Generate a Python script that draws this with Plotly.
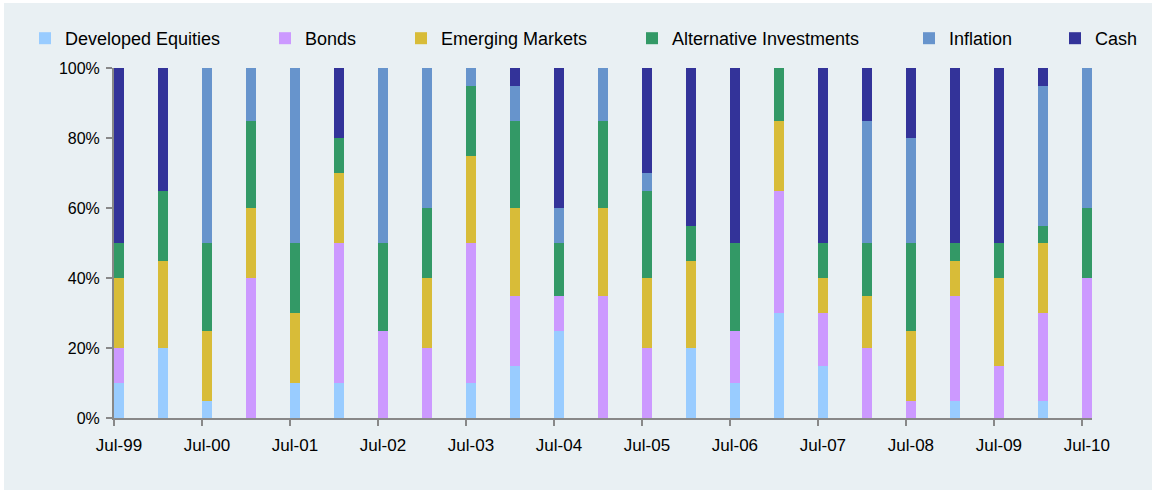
import plotly.graph_objects as go

periods = ["Jul-99", "Jan-00", "Jul-00", "Jan-01", "Jul-01", "Jan-02", "Jul-02", "Jan-03",
           "Jul-03", "Jan-04", "Jul-04", "Jan-05", "Jul-05", "Jan-06", "Jul-06", "Jan-07",
           "Jul-07", "Jan-08", "Jul-08", "Jan-09", "Jul-09", "Jan-10", "Jul-10"]

developed_equities = [10, 20, 5, 0, 10, 10, 0, 0, 10, 15, 25, 0, 0, 20, 10, 30, 15, 0, 0, 5, 0, 5, 0]
bonds = [10, 0, 0, 40, 0, 40, 25, 20, 40, 20, 10, 35, 20, 0, 15, 35, 15, 20, 5, 30, 15, 25, 40]
emerging_markets = [20, 25, 20, 20, 20, 20, 0, 20, 25, 25, 0, 25, 20, 25, 0, 20, 10, 15, 20, 10, 25, 20, 0]
alternative_investments = [10, 20, 25, 25, 20, 10, 25, 20, 20, 25, 15, 25, 25, 10, 25, 15, 10, 15, 25, 5, 10, 5, 20]
inflation = [0, 0, 50, 15, 50, 0, 50, 40, 5, 10, 10, 15, 5, 0, 0, 0, 0, 35, 30, 0, 0, 40, 40]
cash = [50, 35, 0, 0, 0, 20, 0, 0, 0, 5, 40, 0, 30, 45, 50, 0, 50, 15, 20, 50, 50, 5, 0]

y_ticks = [0, 20, 40, 60, 80, 100]
y_tick_labels = ["0%", "20%", "40%", "60%", "80%", "100%"]

series = [
    ("Developed Equities", developed_equities, "#99CCFF"),
    ("Bonds", bonds, "#CC99FF"),
    ("Emerging Markets", emerging_markets, "#D8BC38"),
    ("Alternative Investments", alternative_investments, "#339966"),
    ("Inflation", inflation, "#6794CC"),
    ("Cash", cash, "#333399"),
]

OFF_X, OFF_Y = 4, 3          # page offset of the figure (white border)
W, H = 1152 - OFF_X, 490 - OFF_Y
FONT = "Arial, Liberation Sans, sans-serif"
BG = "#E9F0F3"
BAR_W = 0.23

# plot area in page pixels
PLOT_TOP, PLOT_BOTTOM, PLOT_LEFT, PLOT_RIGHT = 68, 418, 114, 1092
ML = PLOT_LEFT - OFF_X
MT = PLOT_TOP - OFF_Y
MR = W - (PLOT_RIGHT - OFF_X)
MB = H - (PLOT_BOTTOM - OFF_Y)
PW = W - ML - MR
PH = H - MT - MB

x_pos = list(range(len(periods)))
jul_idx = [i for i, p in enumerate(periods) if p.startswith("Jul")]

# legend text start positions (page px) for each entry
legend_text_x = [65, 305, 441, 672, 949, 1095]
LEGEND_MID_Y = 38.5

fig = go.Figure()
layout_legends = {}
for k, (name, vals, col) in enumerate(series):
    lname = "legend" if k == 0 else f"legend{k+1}"
    fig.add_trace(go.Bar(
        x=x_pos, y=vals, name=name,
        marker=dict(color=col, line=dict(width=0)),
        width=BAR_W, offset=0,
        legend=lname,
        hovertemplate="%{customdata}: %{y}%<extra>" + name + "</extra>",
        customdata=periods,
    ))
    fx = legend_text_x[k] - OFF_X - 40
    fy = LEGEND_MID_Y - OFF_Y
    layout_legends[lname] = dict(
        xref="paper", yref="paper",
        x=(fx - ML) / PW, xanchor="left",
        y=((H - MB) - fy) / PH, yanchor="middle",
        orientation="h",
        bgcolor="rgba(0,0,0,0)", borderwidth=0,
        font=dict(family=FONT, size=18, color="#000000"),
        itemclick=False, itemdoubleclick=False,
    )

fig.update_layout(
    barmode="stack",
    width=W, height=H,
    paper_bgcolor=BG, plot_bgcolor=BG,
    margin=dict(l=ML, r=MR, t=MT, b=MB, autoexpand=False),
    showlegend=True,
    **layout_legends,
)

fig.update_xaxes(
    range=[0, len(periods) - 1 + BAR_W],
    tickmode="array", tickvals=jul_idx, ticktext=[periods[i] for i in jul_idx],
    ticks="outside", ticklen=6, tickwidth=2, tickcolor="#888888",
    showline=True, linecolor="#888888", linewidth=2,
    showgrid=False, zeroline=False,
    ticklabelshift=5, ticklabelstandoff=5,
    tickfont=dict(family=FONT, size=17, color="#000000"),
)
fig.update_yaxes(
    range=[0, 100],
    tickmode="array", tickvals=y_ticks, ticktext=y_tick_labels,
    ticks="outside", ticklen=6, tickwidth=2, tickcolor="#888888",
    showline=True, linecolor="#888888", linewidth=2,
    showgrid=False, zeroline=False,
    ticklabelstandoff=3,
    tickfont=dict(family=FONT, size=16, color="#000000"),
)

fig.write_html(
    "out.html",
    post_script="document.body.style.margin='%dpx 0 0 %dpx';" % (OFF_Y, OFF_X),
)
